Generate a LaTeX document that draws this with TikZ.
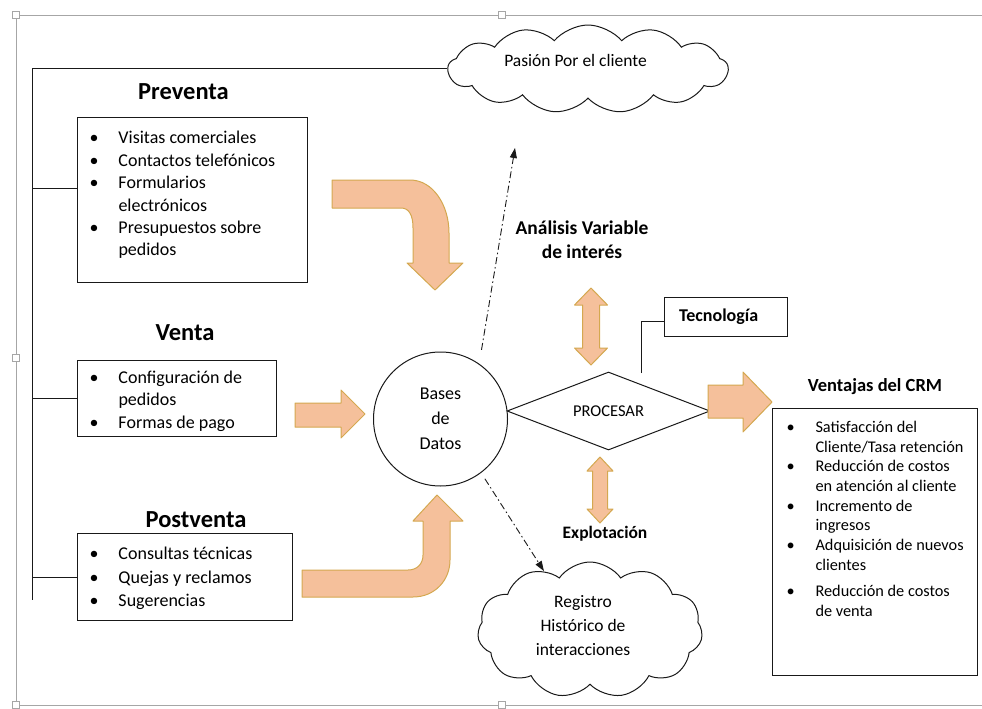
\documentclass[tikz,border=0pt]{standalone}
\usepackage{fontspec}
\setmainfont{Carlito}
\usetikzlibrary{shapes.geometric,shapes.symbols,arrows.meta}
\definecolor{peach}{HTML}{F5C09B}
\definecolor{peachline}{HTML}{D4A850}
\definecolor{framegray}{HTML}{A6A6A6}
\newcommand\bi[1]{\mbox{\makebox[29pt][l]{\textbullet}#1}}
\newcommand\ci[1]{\mbox{\hspace*{29pt}#1}}
\begin{document}
\begin{tikzpicture}[x=1pt,y=-1pt,
  conn/.style={draw=black!90, line width=1pt},
  boxnode/.style={draw=black!90, line width=1pt, anchor=north west, inner xsep=12pt},
  titletext/.style={font=\fontsize{24.5}{28}\selectfont\bfseries},
  lbltext/.style={font=\fontsize{19.5}{24}\selectfont\bfseries, align=center},
  bodytext/.style={font=\fontsize{18}{22.4}\selectfont},
  blk/.style={fill=peach, draw=peachline, line width=1pt, line join=round},
  ddash/.style={draw=black!90, line width=0.9pt, dash pattern=on 7pt off 3pt on 1.5pt off 3pt, -{Triangle[length=10pt,width=7pt]}},
  cloudnode/.style={cloud, draw=black!90, line width=1pt, cloud ignores aspect, inner sep=0pt}
]
\useasboundingbox (0,0) rectangle (982,709);
% frame of the picture
\draw[framegray, line width=0.8pt] (982,15) -- (16,15) -- (16,705) -- (982,705);
\foreach \hx/\hy in {16/15, 502/15, 16/358, 16/705, 502/705}
  \draw[framegray, fill=white, line width=0.6pt] (\hx-3.5,\hy-3.5) rectangle (\hx+3.5,\hy+3.5);

% clouds
\node[cloudnode, cloud puffs=13, cloud puff arc=100, minimum width=280, minimum height=88] (cl1) at (588,69) {};
\node[font=\fontsize{17.5}{24}\selectfont] (cl1t) at (575.5,60) {Pasión Por el cliente};
\node[cloudnode, cloud puffs=11, cloud puff arc=110, minimum width=225, minimum height=136] (cl2) at (590,630) {};
\node[align=center, font=\fontsize{17.5}{24}\selectfont] (cl2t) at (583,626) {Registro\\Histórico de\\interacciones};

% titles
\node[titletext] (tpre) at (183.5,92) {Preventa};
\node[titletext] (tvta) at (185,333) {Venta};
\node[titletext] (tpost) at (196,520) {Postventa};

% boxes
\node[boxnode, bodytext, inner ysep=14pt] (pre) at (77,117) {\begin{minipage}[t][137pt][t]{206pt}\raggedright
\bi{Visitas comerciales}\\
\bi{Contactos telefónicos}\\
\bi{Formularios}\\
\ci{electrónicos}\\
\bi{Presupuestos sobre}\\
\ci{pedidos}\end{minipage}};
\node[boxnode, bodytext, inner ysep=10.5pt] (vta) at (77,360) {\begin{minipage}[t][55pt][t]{175pt}\raggedright
\bi{Configuración de}\\
\ci{pedidos}\\
\bi{Formas de pago}\end{minipage}};
\node[boxnode, font=\fontsize{18}{23.5}\selectfont, inner ysep=12pt] (post) at (77,533) {\begin{minipage}[t][63pt][t]{191pt}\raggedright
\vspace*{1.5pt}\bi{Consultas técnicas}\\
\bi{Quejas y reclamos}\\
\bi{Sugerencias}\end{minipage}};
\node[boxnode, font=\fontsize{16.3}{19.7}\selectfont, inner xsep=14pt, inner ysep=12.5pt] (ventb) at (772,408) {\begin{minipage}[t][242pt][t]{177pt}\raggedright
\bi{Satisfacción del}\\
\ci{Cliente/Tasa retención}\\
\bi{Reducción de costos}\\
\ci{en atención al cliente}\\
\bi{Incremento de}\\
\ci{ingresos}\\
\bi{Adquisición de nuevos}\\
\ci{clientes}\\[7pt]
\bi{Reducción de costos}\\
\ci{de venta}\end{minipage}};

% left spine connectors
\coordinate (s0) at (32,69);
\coordinate (s4) at (32,600);
\coordinate (b1) at (32,188);
\draw[conn] (cl1.west) -- (cl1.west -| s0) -- (s4);
\draw[conn] (b1) -- (b1 -| pre.west);
\draw[conn] (vta.west -| s0) -- (vta.west);
\draw[conn] (post.west -| s0) -- (post.west);

% center shapes
\node[circle, draw=black!90, line width=1pt, minimum size=134, inner sep=0pt, align=center, font=\fontsize{18}{25}\selectfont] (db) at (440.5,419) {Bases\\de\\Datos};
\node[diamond, draw=black!90, line width=1pt, aspect=2.6, minimum width=203, minimum height=78, inner sep=0pt, font=\fontsize{16.5}{20}\selectfont] (proc) at (608.5,411) {PROCESAR};
\node[draw=black!90, line width=1pt, minimum height=39, text width=93, inner xsep=15pt, inner ysep=0pt, align=left, font=\fontsize{18}{20}\selectfont\bfseries] (tec) at (725.5,316.5) {Tecnología};
\coordinate (tk) at (641,373);
\draw[conn] (tk) |- ([yshift=-5pt]tec.west);

% labels
\node[lbltext] (ana) at (582,240) {Análisis Variable\\de interés};
\node[lbltext, font=\fontsize{17.5}{22}\selectfont\bfseries] (expl) at (605,534) {Explotación};
\node[lbltext, font=\fontsize{18.5}{22}\selectfont\bfseries] (ventt) at (875,387) {Ventajas del CRM};

% dash-dot arrows
\coordinate (upend) at (515,148);
\draw[ddash, shorten <=14pt] (db.55) -- (upend);
\draw[ddash, shorten <=7pt] (db.-53) -- (cl2.128);

% block arrows
\draw[blk] (332,180) -- (410,180) .. controls (433,180) and (449,205) .. (449,233) -- (449,263) -- (463,263) -- (435,290) -- (407,263) -- (413,263) -- (413,228) .. controls (413,215) and (409,208) .. (401,208) -- (332,208) -- cycle;
\draw[blk] (302,570) -- (408,570) .. controls (417,570) and (423,564) .. (423,555) -- (423,521) -- (413,521) -- (437,495) -- (463,521) -- (450,521) -- (450,560) .. controls (450,580) and (435,597) .. (413,597) -- (302,597) -- cycle;
\draw[blk] (295,403) -- (341,403) -- (341,390) -- (365,414) -- (341,438) -- (341,427) -- (295,427) -- cycle;
\draw[blk] (708,385) -- (743,385) -- (743,372) -- (772,402) -- (743,432) -- (743,418) -- (708,418) -- cycle;
\draw[blk] (591,288) -- (607.5,305) -- (599.5,305) -- (599.5,348) -- (607.5,348) -- (591,365) -- (574.5,348) -- (582.5,348) -- (582.5,305) -- (574.5,305) -- cycle;
\draw[blk] (600,457) -- (613,471) -- (607.5,471) -- (607.5,509) -- (613,509) -- (600,523) -- (587,509) -- (592.5,509) -- (592.5,471) -- (587,471) -- cycle;
\end{tikzpicture}
\end{document}
